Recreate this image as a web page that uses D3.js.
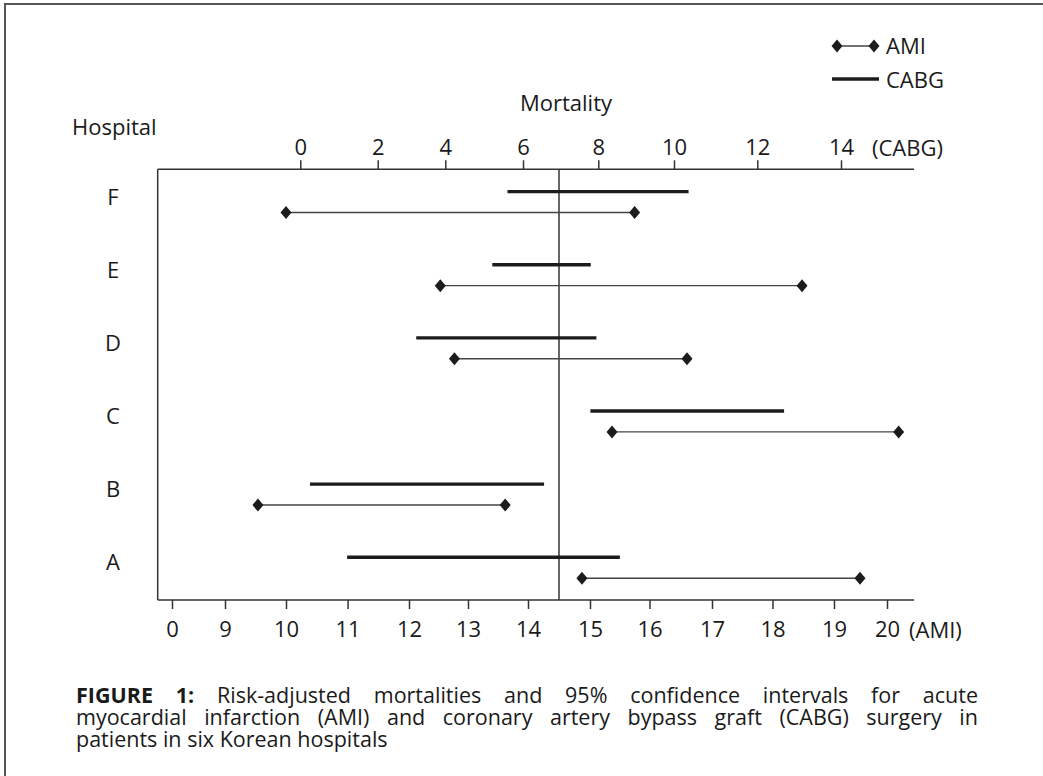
<!DOCTYPE html>
<html>
<head>
<meta charset="utf-8">
<script src="https://cdn.jsdelivr.net/npm/d3@7"></script>
<style>
  body { margin: 0; background: #fff; position: relative; }
  svg { display: block; }
  svg text { font-family: "Open Sans", sans-serif; fill: #1a1a1a; }
  .caption { position: absolute; left: 76px; top: 684px; width: 902px;
             font-family: "Open Sans", sans-serif; font-size: 21.5px; line-height: 22px; color: #1a1a1a; }
  .caption div { text-align: justify; text-align-last: justify; white-space: nowrap; }
  .caption div.last { text-align-last: left; }
</style>
</head>
<body>
<script>
// hospitals, bottom to top in the figure
var hospitals = ["A", "B", "C", "D", "E", "F"];

// AMI risk-adjusted mortality, 95% CI (bottom axis)
var amiLow  = [14.87, 9.54, 15.37, 12.77, 12.53, 10.0];
var amiHigh = [19.49, 13.62, 20.22, 16.6, 18.48, 15.75];

// CABG risk-adjusted mortality, 95% CI (top axis)
var cabgLow  = [1.21, 0.25, 7.79, 3.14, 5.21, 5.6];
var cabgHigh = [8.57, 6.56, 12.64, 7.95, 7.8, 10.35];

var cabgTicks = [0, 2, 4, 6, 8, 10, 12, 14];
var amiTicks = [0, 9, 10, 11, 12, 13, 14, 15, 16, 17, 18, 19, 20];
var amiReference = 14.5;

// where the printed axes put their ticks (the scanned axes are not evenly spaced)
var cabgTickX = [300.3, 377.7, 445.3, 523, 598.3, 674, 757.3, 841];
var amiTickX = [172, 225, 286, 347.6, 409, 468, 528, 590, 649.5, 712, 772.5, 834, 887];

var captionLines = [
  "Risk-adjusted mortalities and 95% confidence intervals for acute",
  "myocardial infarction (AMI) and coronary artery bypass graft (CABG) surgery in",
  "patients in six Korean hospitals"
];

var width = 1043, height = 776;
var box = {left: 157.7, right: 914, top: 169.3, bottom: 600};

var svg = d3.select("body").append("svg")
    .attr("width", width)
    .attr("height", height);

// outer frame
svg.append("rect")
    .attr("x", 5).attr("y", 4)
    .attr("width", 1200).attr("height", 900)
    .attr("fill", "none")
    .attr("stroke", "#555")
    .attr("stroke-width", 2);

var xCabg = d3.scaleLinear().domain(cabgTicks).range(cabgTickX);
var xAmi = d3.scaleLinear().domain(amiTicks).range(amiTickX);
var y = d3.scalePoint().domain(hospitals.slice().reverse()).range([202, 567.7]);

var rows = hospitals.map(function(h, i) {
  return {name: h, amiLow: amiLow[i], amiHigh: amiHigh[i], cabgLow: cabgLow[i], cabgHigh: cabgHigh[i]};
});

// box lines
var frame = svg.append("g").attr("stroke", "#333").attr("stroke-width", 1.5);
frame.append("line")
    .attr("x1", box.left).attr("x2", box.right)
    .attr("y1", box.top).attr("y2", box.top);
frame.append("line")
    .attr("x1", box.left).attr("x2", box.right)
    .attr("y1", box.bottom).attr("y2", box.bottom);
frame.append("line")
    .attr("x1", box.left).attr("x2", box.left)
    .attr("y1", box.top).attr("y2", box.bottom);

// reference line
frame.append("line")
    .attr("x1", xAmi(amiReference)).attr("x2", xAmi(amiReference))
    .attr("y1", box.top).attr("y2", box.bottom);

// axes
var topAxis = svg.append("g")
    .attr("transform", "translate(0," + box.top + ")")
    .call(d3.axisTop(xCabg).tickValues(cabgTicks).tickSize(9).tickPadding(5));
var bottomAxis = svg.append("g")
    .attr("transform", "translate(0," + box.bottom + ")")
    .call(d3.axisBottom(xAmi).tickValues(amiTicks).tickSize(9).tickPadding(12));

[topAxis, bottomAxis].forEach(function(a) {
  a.select(".domain").remove();
  a.selectAll(".tick line").attr("stroke", "#333").attr("stroke-width", 1.5);
  a.selectAll(".tick text")
      .attr("fill", "#1a1a1a")
      .style("font-family", '"Open Sans", sans-serif')
      .style("font-size", "22px");
});

svg.append("text").attr("x", 872).attr("y", 148).attr("dy", "0.35em")
    .style("font-size", "22px").text("(CABG)");
svg.append("text").attr("x", 909).attr("y", 630).attr("dy", "0.35em")
    .style("font-size", "22px").text("(AMI)");
svg.append("text").attr("x", 566).attr("y", 103).attr("dy", "0.35em")
    .attr("text-anchor", "middle")
    .style("font-size", "22px").text("Mortality");
svg.append("text").attr("x", 72).attr("y", 127).attr("dy", "0.35em")
    .style("font-size", "22px").text("Hospital");

// hospital letters
svg.append("g").selectAll("text")
    .data(rows)
    .enter().append("text")
    .attr("x", 113)
    .attr("y", function(d) { return y(d.name) - 5; })
    .attr("dy", "0.35em")
    .attr("text-anchor", "middle")
    .style("font-size", "22px")
    .text(function(d) { return d.name; });

var diamond = "M0,-6.5L5.5,0L0,6.5L-5.5,0Z";

// CABG intervals
svg.append("g").selectAll("line")
    .data(rows)
    .enter().append("line")
    .attr("x1", function(d) { return xCabg(d.cabgLow); })
    .attr("x2", function(d) { return xCabg(d.cabgHigh); })
    .attr("y1", function(d) { return y(d.name) - 10.4; })
    .attr("y2", function(d) { return y(d.name) - 10.4; })
    .attr("stroke", "#1c1c1c")
    .attr("stroke-width", 3.4);

// AMI intervals
var ami = svg.append("g").selectAll("g")
    .data(rows)
    .enter().append("g")
    .attr("transform", function(d) { return "translate(0," + (y(d.name) + 10.5) + ")"; });
ami.append("line")
    .attr("x1", function(d) { return xAmi(d.amiLow); })
    .attr("x2", function(d) { return xAmi(d.amiHigh); })
    .attr("stroke", "#444")
    .attr("stroke-width", 1.4);
ami.append("path")
    .attr("d", diamond)
    .attr("transform", function(d) { return "translate(" + xAmi(d.amiLow) + ",0)"; })
    .attr("fill", "#1c1c1c");
ami.append("path")
    .attr("d", diamond)
    .attr("transform", function(d) { return "translate(" + xAmi(d.amiHigh) + ",0)"; })
    .attr("fill", "#1c1c1c");

// legend
var legend = svg.append("g");
legend.append("line")
    .attr("x1", 837).attr("x2", 874).attr("y1", 46).attr("y2", 46)
    .attr("stroke", "#444").attr("stroke-width", 1.4);
legend.selectAll("path.key")
    .data([837, 874])
    .enter().append("path")
    .attr("class", "key")
    .attr("d", diamond)
    .attr("transform", function(d) { return "translate(" + d + ",46)"; })
    .attr("fill", "#1c1c1c");
legend.append("line")
    .attr("x1", 832).attr("x2", 879).attr("y1", 79).attr("y2", 79)
    .attr("stroke", "#1c1c1c").attr("stroke-width", 3.4);
legend.append("text").attr("x", 886).attr("y", 46).attr("dy", "0.35em")
    .style("font-size", "22px").text("AMI");
legend.append("text").attr("x", 886).attr("y", 80).attr("dy", "0.35em")
    .style("font-size", "22px").text("CABG");

// caption: justified block, first two lines spread to full width
var caption = d3.select("body").append("div").attr("class", "caption");
captionLines.forEach(function(str, i) {
  var line = caption.append("div").classed("last", i === captionLines.length - 1);
  if (i === 0) {
    line.append("b").text("FIGURE 1:");
    line.append("span").text(" " + str);
  } else {
    line.text(str);
  }
});
</script>
</body>
</html>
